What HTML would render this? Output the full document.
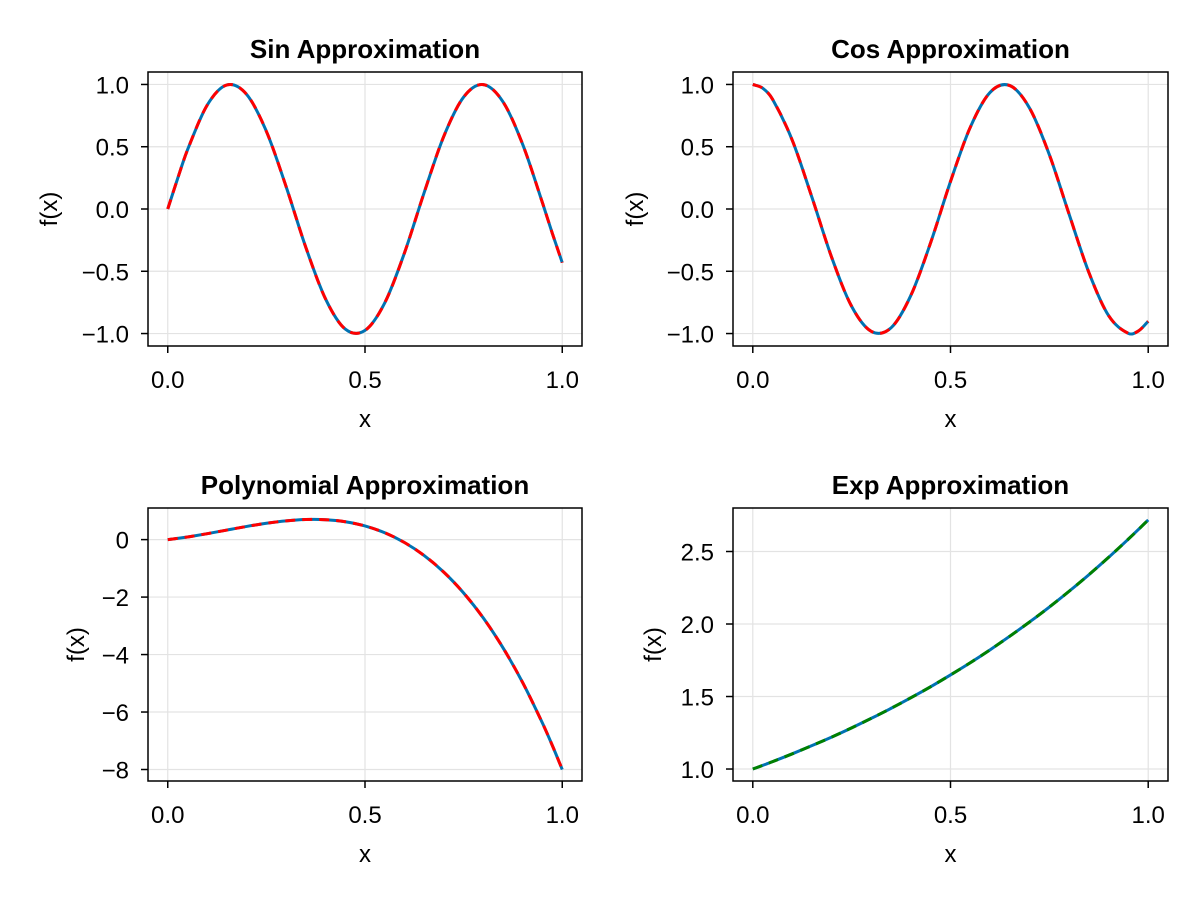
<!DOCTYPE html>
<html><head><meta charset="utf-8">
<style>
html,body{margin:0;padding:0;background:#fff;}
svg{display:block;font-family:"Liberation Sans",sans-serif;}
</style></head>
<body>
<svg id="chart" width="1200" height="900" viewBox="0 0 1200 900" xmlns="http://www.w3.org/2000/svg"></svg>
<script>
const xs = [0,0.025,0.05,0.1,0.15,0.2,0.25,0.3,0.35,0.4,0.45,0.5,0.55,0.6,0.65,0.7,0.75,0.8,0.85,0.9,0.95,0.975,1];
const sinVals = [0,0.244,0.474,0.834,0.996,0.920,0.624,0.180,-0.308,-0.722,-0.964,-0.975,-0.754,-0.353,0.132,0.586,0.899,0.999,0.860,0.516,0.048,-0.197,-0.431];
const cosVals = [1,0.970,0.881,0.551,0.090,-0.393,-0.782,-0.983,-0.953,-0.692,-0.268,0.221,0.656,0.936,0.991,0.810,0.436,-0.042,-0.510,-0.857,-0.999,-0.980,-0.902];
const polyVals = [0,0.042,0.091,0.206,0.333,0.458,0.569,0.653,0.699,0.693,0.622,0.475,0.238,-0.101,-0.555,-1.135,-1.857,-2.730,-3.769,-4.984,-6.391,-7.169,-8];
const expVals = [1,1.025,1.051,1.105,1.162,1.221,1.284,1.350,1.419,1.492,1.568,1.649,1.733,1.822,1.916,2.014,2.117,2.226,2.340,2.460,2.586,2.651,2.718];
const xTicks = [0,0.5,1];
const xTickLabels = ["0.0","0.5","1.0"];
const trigTicks = [-1,-0.5,0,0.5,1];
const trigTickLabels = ["\u22121.0","\u22120.5","0.0","0.5","1.0"];
const polyTicks = [-8,-6,-4,-2,0];
const polyTickLabels = ["\u22128","\u22126","\u22124","\u22122","0"];
const expTicks = [1,1.5,2,2.5];
const expTickLabels = ["1.0","1.5","2.0","2.5"];

const NS = "http://www.w3.org/2000/svg";
const svg = document.getElementById('chart');
function mk(tag, attrs, parent){const e=document.createElementNS(NS,tag);for(const k in attrs)e.setAttribute(k,attrs[k]);(parent||svg).appendChild(e);return e;}

const panels = [
 {name:'sin',title:'Sin Approximation',L:148,R:582,T:72,B:346,ymin:-1.1,ymax:1.1,ticks:trigTicks,labels:trigTickLabels,vals:sinVals,dash:'#ff0000',ylabX:57},
 {name:'cos',title:'Cos Approximation',L:733,R:1168,T:72,B:346,ymin:-1.1,ymax:1.1,ticks:trigTicks,labels:trigTickLabels,vals:cosVals,dash:'#ff0000',ylabX:643},
 {name:'poly',title:'Polynomial Approximation',L:148,R:582,T:508,B:781,ymin:-8.4,ymax:1.1,ticks:polyTicks,labels:polyTickLabels,vals:polyVals,dash:'#ff0000',ylabX:84},
 {name:'exp',title:'Exp Approximation',L:733,R:1168,T:508,B:781,ymin:0.9174,ymax:2.8,ticks:expTicks,labels:expTickLabels,vals:expVals,dash:'#008000',ylabX:661}
];

function pathFrom(pts){
  const n=pts.length;
  const P=i=>{
    if(i<0) return [2*pts[0][0]-pts[1][0],2*pts[0][1]-pts[1][1]];
    if(i>=n) return [2*pts[n-1][0]-pts[n-2][0],2*pts[n-1][1]-pts[n-2][1]];
    return pts[i];
  };
  let d='M'+pts[0][0].toFixed(2)+','+pts[0][1].toFixed(2);
  for(let i=0;i<n-1;i++){
    const p0=P(i-1),p1=P(i),p2=P(i+1),p3=P(i+2);
    const h=p2[0]-p1[0];
    const t1=(p2[1]-p0[1])/(p2[0]-p0[0]);
    const t2=(p3[1]-p1[1])/(p3[0]-p1[0]);
    const c1=[p1[0]+h/3,p1[1]+t1*h/3];
    const c2=[p2[0]-h/3,p2[1]-t2*h/3];
    d+='C'+c1[0].toFixed(2)+','+c1[1].toFixed(2)+' '+c2[0].toFixed(2)+','+c2[1].toFixed(2)+' '+p2[0].toFixed(2)+','+p2[1].toFixed(2);
  }
  return d;
}

panels.forEach(p=>{
  const g=mk('g',{});
  
  
  const xpad=(p.R-p.L)*0.0455;
  const sx=v=>p.L+xpad+v*(p.R-p.L-2*xpad);
  const sy=v=>p.B-(v-p.ymin)/(p.ymax-p.ymin)*(p.B-p.T);
  xTicks.forEach((t,i)=>{
    const l=mk('line',{x1:sx(t),x2:sx(t),y1:p.T,y2:p.B,stroke:'#e3e3e3','stroke-width':1.2},g);
    
    
    const tk=mk('line',{x1:sx(t),x2:sx(t),y1:p.B,y2:p.B+7,stroke:'#000','stroke-width':1.5},g);
    
    
    const tx=mk('text',{x:sx(t),y:p.B+42,'text-anchor':'middle','font-size':24,fill:'#000'},g);
    tx.textContent=xTickLabels[i];
    
    
  });
  p.ticks.forEach((t,i)=>{
    const l=mk('line',{x1:p.L,x2:p.R,y1:sy(t),y2:sy(t),stroke:'#e3e3e3','stroke-width':1.2},g);
    
    
    const tk=mk('line',{x1:p.L-7,x2:p.L,y1:sy(t),y2:sy(t),stroke:'#000','stroke-width':1.5},g);
    
    
    const tx=mk('text',{x:p.L-19,y:sy(t)+9,'text-anchor':'end','font-size':24,fill:'#000'},g);
    tx.textContent=p.labels[i];
    
    
  });
  const pts=xs.map((x,i)=>[sx(x),sy(p.vals[i])]);
  const d=pathFrom(pts);
  const exact=mk('path',{d:d,fill:'none',stroke:'#0072b2','stroke-width':3},g);
  
  
  const appr=mk('path',{d:d,fill:'none',stroke:p.dash,'stroke-width':3,'stroke-dasharray':'10 7'},g);
  
  
  const box=mk('rect',{x:p.L,y:p.T,width:p.R-p.L,height:p.B-p.T,fill:'none',stroke:'#000','stroke-width':1.5},g);
  
  
  const ti=mk('text',{x:(p.L+p.R)/2,y:p.T-14,'text-anchor':'middle','font-size':26,'font-weight':'bold',fill:'#000'},g);
  ti.textContent=p.title;
  
  
  const xl=mk('text',{x:(p.L+p.R)/2,y:p.B+81,'text-anchor':'middle','font-size':24,fill:'#000'},g);
  xl.textContent='x';
  
  
  const cy=(p.T+p.B)/2;
  const yl=mk('text',{x:p.ylabX,y:cy,'text-anchor':'middle','font-size':24,fill:'#000',transform:'rotate(-90 '+p.ylabX+' '+cy+')'},g);
  yl.textContent='f(x)';
  
  
});
</script>
</body></html>
